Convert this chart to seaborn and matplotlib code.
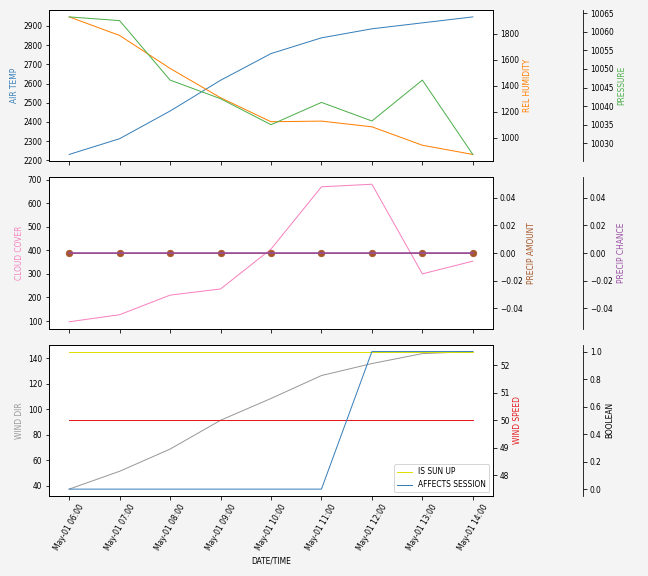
import matplotlib
matplotlib.use("Agg")
import matplotlib.pyplot as plt
import matplotlib.dates as mdates
from matplotlib.lines import Line2D
import seaborn as sns
import pandas as pd

times = pd.date_range("2023-05-01 06:00", periods=9, freq="h")
air_temp = [2231, 2313, 2457, 2617, 2756, 2838, 2885, 2916, 2947]
rel_humidity = [1930, 1787, 1533, 1307, 1122, 1127, 1083, 941, 870]
pressure = [10064, 10063, 10047, 10042, 10035, 10041, 10036, 10047, 10027]
cloud_cover = [97, 127, 210, 236, 405, 669, 680, 300, 354]
precip_amount = [0, 0, 0, 0, 0, 0, 0, 0, 0]
precip_chance = [0, 0, 0, 0, 0, 0, 0, 0, 0]
wind_dir = [37.4, 51.4, 68.8, 91.4, 108.5, 126.5, 135.9, 143.7, 145.3]
wind_speed = [50, 50, 50, 50, 50, 50, 50, 50, 50]
is_sun_up = [1, 1, 1, 1, 1, 1, 1, 1, 1]
affects_session = [0, 0, 0, 0, 0, 0, 1, 1, 1]

df = pd.DataFrame({
    "time": times, "air_temp": air_temp, "rel_humidity": rel_humidity,
    "pressure": pressure, "cloud_cover": cloud_cover,
    "precip_amount": precip_amount, "precip_chance": precip_chance,
    "wind_dir": wind_dir, "wind_speed": wind_speed,
    "is_sun_up": is_sun_up, "affects_session": affects_session,
})

pal = sns.color_palette("Set1")
RED, BLUE, GREEN, PURPLE, ORANGE, YELLOW, BROWN, PINK, GRAY = pal
YELLOW_D = "#e0e000"

FS = 7.5
plt.rcParams["font.size"] = FS
plt.rcParams["font.family"] = ["DejaVu Sans"]

fig, axes = plt.subplots(3, 1, figsize=(9, 8), dpi=72, sharex=True)
fig.patch.set_facecolor("#f4f4f4")
fig.subplots_adjust(left=0.0756, right=0.7608, top=0.9826, bottom=0.1389, hspace=0.106)

LW = 1.0


def third(ax):
    t = ax.twinx()
    t.spines["right"].set_position(("axes", 1.2027))
    return t


def style(ax):
    ax.tick_params(labelsize=FS)


# Panel 1
ax = axes[0]
sns.lineplot(data=df, x="time", y="air_temp", color=BLUE, lw=LW, ax=ax)
ax.set_ylabel("AIR TEMP", color=BLUE, fontsize=FS)
a2 = ax.twinx()
sns.lineplot(data=df, x="time", y="rel_humidity", color=ORANGE, lw=LW, ax=a2)
a2.set_ylabel("REL HUMIDITY", color=ORANGE, fontsize=FS)
a3 = third(ax)
sns.lineplot(data=df, x="time", y="pressure", color=GREEN, lw=LW, ax=a3)
a3.set_ylabel("PRESSURE", color=GREEN, fontsize=FS)
for a in (ax, a2, a3):
    style(a)

# Panel 2
ax = axes[1]
sns.lineplot(data=df, x="time", y="cloud_cover", color=PINK, lw=LW, ax=ax)
ax.set_ylabel("CLOUD COVER", color=PINK, fontsize=FS)
b2 = ax.twinx()
sns.lineplot(data=df, x="time", y="precip_amount", color=BROWN, lw=LW,
             marker="o", markersize=6.5, markeredgecolor=BROWN, ax=b2)
b2.set_ylabel("PRECIP AMOUNT", color=BROWN, fontsize=FS)
b3 = third(ax)
sns.lineplot(data=df, x="time", y="precip_chance", color=PURPLE, lw=1.6, ax=b3)
b3.set_ylabel("PRECIP CHANCE", color=PURPLE, fontsize=FS)
for a in (ax, b2, b3):
    style(a)

# Panel 3
ax = axes[2]
sns.lineplot(data=df, x="time", y="wind_dir", color=GRAY, lw=LW, ax=ax)
ax.set_ylabel("WIND DIR", color=GRAY, fontsize=FS)
c2 = ax.twinx()
sns.lineplot(data=df, x="time", y="wind_speed", color=RED, lw=LW, ax=c2)
c2.set_ylabel("WIND SPEED", color=RED, fontsize=FS)
c3 = third(ax)
sns.lineplot(data=df, x="time", y="is_sun_up", color=YELLOW_D, lw=LW, ax=c3)
sns.lineplot(data=df, x="time", y="affects_session", color=BLUE, lw=LW, ax=c3)
c3.set_ylabel("BOOLEAN", color="black", fontsize=FS)
handles = [Line2D([], [], color=YELLOW_D, lw=LW), Line2D([], [], color=BLUE, lw=LW)]
c3.legend(handles=handles, labels=["IS SUN UP", "AFFECTS SESSION"],
          loc="lower right", fontsize=FS)
for a in (ax, c2, c3):
    style(a)

ax.set_xlabel("DATE/TIME", fontsize=FS)
ax.xaxis.set_major_locator(mdates.HourLocator())
ax.xaxis.set_major_formatter(mdates.DateFormatter("%b-%d %H:%M"))
for lbl in ax.get_xticklabels():
    lbl.set_rotation(60)
for a in axes[:2]:
    a.set_xlabel("")

fig.savefig("out.png", dpi=72, facecolor=fig.get_facecolor())
